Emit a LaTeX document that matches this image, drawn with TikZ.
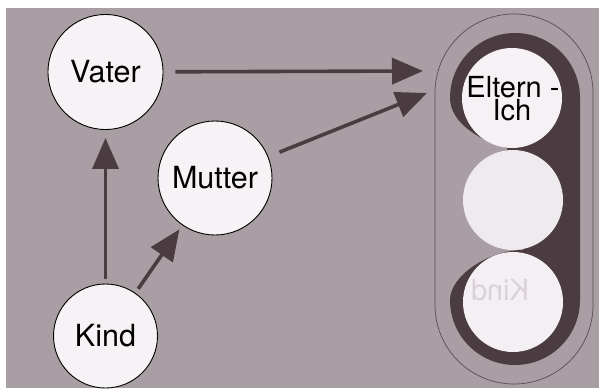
\documentclass[tikz,border=0pt]{standalone}
\usepackage{fontspec}
\setmainfont{TeX Gyre Heros}
\usetikzlibrary{arrows.meta}
\definecolor{bg}{HTML}{A89EA3}
\definecolor{darkc}{HTML}{4B3C42}
\definecolor{disc}{HTML}{F6F2F5}
\definecolor{egoA}{HTML}{F5F1F4}
\definecolor{egoB}{HTML}{EEEAED}
\definecolor{egoC}{HTML}{F3EFF2}
\definecolor{ghost}{HTML}{DAD2D7}
\definecolor{rim}{HTML}{5A4D53}
\begin{document}
\begin{tikzpicture}[x=1pt,y=-1pt,
  person/.style={circle,draw=black,line width=0.9pt,fill=disc,inner sep=0pt,
    font=\fontsize{30.5}{24}\selectfont},
  egocircle/.style={circle,inner sep=0pt,minimum size=100pt},
  egotext/.style={inner sep=0pt,anchor=base,font=\fontsize{29}{24}\selectfont},
  link/.style={draw=darkc,line width=3.6pt,-{Triangle[length=31pt,width=26pt]}}]
\useasboundingbox (0,0) rectangle (599,388);
\fill[white] (0,0) rectangle (599,388);
\fill[bg] (6,8) rectangle (599,388);
% outer stadium
\draw[rim,line width=0.7pt,rounded corners=78.9pt] (435,14) rectangle (593,384);
% dark backing shape
\fill[darkc] (507,148) .. controls (478,140) and (450,122) .. (450,98)
  arc (180:360:65) -- (580,300) arc (0:180:65)
  .. controls (450,275) and (490,250) .. (523,250) -- cycle;
% ego-state circles
\node[egocircle,fill=egoA] (eltern) at (512,98) {};
\node[egotext] (elternA) at (513,97) {Eltern -};
\node[egotext] (elternB) at (512,120) {Ich};
\node[egocircle,fill=egoB] (erw) at (513,200) {};
\node[egocircle,fill=egoC] (kindich) at (513,302) {};
\node[text=ghost,font=\fontsize{29}{23}\selectfont] (ghost) at (500,290) {\scalebox{-1}[1]{Kind}};
% persons
\node[person,minimum size=115pt] (vater) at (105.5,72) {Vater};
\node[person,minimum size=114pt] (mutter) at (215,178) {Mutter};
\node[person,minimum size=104pt] (kind) at (105.5,336) {Kind};
% arrow ends
\coordinate (t1) at (423,71);
\coordinate (t2) at (427,93);
% arrows
\draw[link,shorten <=12pt] (vater) -- (t1);
\draw[link,shorten <=12pt] (mutter) -- (t2);
\draw[link,shorten <=5pt,shorten >=8pt] (kind) -- (vater);
\draw[link,shorten <=5pt,shorten >=5pt] (kind) -- (mutter);
\end{tikzpicture}
\end{document}
